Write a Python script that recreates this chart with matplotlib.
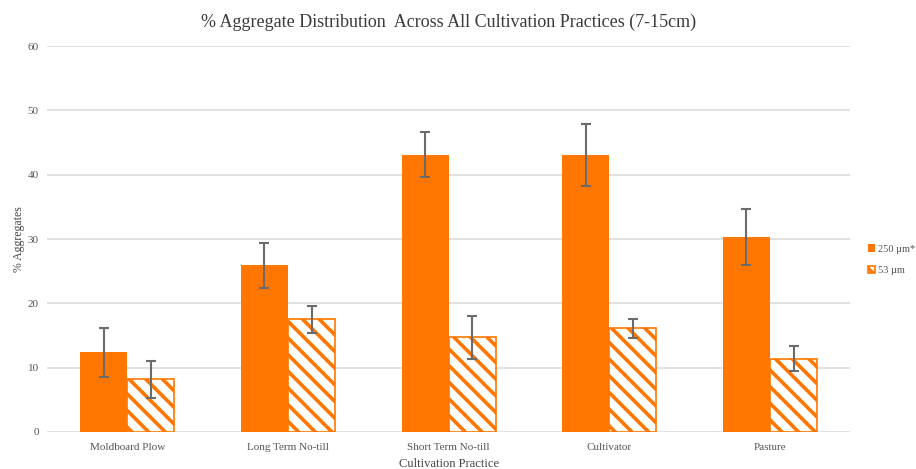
import matplotlib
matplotlib.use("Agg")
import matplotlib.pyplot as plt
import numpy as np

categories = ["Moldboard Plow", "Long Term No-till", "Short Term No-till", "Cultivator", "Pasture"]
agg_250 = [12.4, 25.9, 43.1, 43.1, 30.3]
err_250 = [3.8, 3.5, 3.5, 4.8, 4.4]
agg_53 = [8.2, 17.5, 14.7, 16.1, 11.4]
err_53 = [2.9, 2.1, 3.4, 1.5, 1.9]
series_labels = ["250 µm*", "53 µm"]
yticks = [0, 10, 20, 30, 40, 50, 60]

orange = "#FF7700"
plt.rcParams["font.family"] = ["Liberation Serif", "DejaVu Serif"]
plt.rcParams["hatch.linewidth"] = 2.6
plt.rcParams["hatch.color"] = orange

fig = plt.figure(figsize=(9.16, 4.69), dpi=100)
ax = fig.add_axes([0.0513, 0.0789, 0.877, 0.823])

x = np.arange(len(categories))
w = 0.293
err_kw = dict(ecolor="#6b6b6b", elinewidth=1.5, capsize=3.5, capthick=1.5)
ax.bar(x - w / 2, agg_250, w, color=orange, yerr=err_250, error_kw=err_kw,
       label=series_labels[0], zorder=2)
ax.bar(x + w / 2, agg_53, w, facecolor="white", edgecolor=orange, hatch="\\\\",
       linewidth=1.2, yerr=err_53, error_kw=err_kw, label=series_labels[1], zorder=2)

ax.set_xlim(-0.5, len(categories) - 0.5)
ax.set_ylim(0, 60)
ax.set_yticks(yticks)
ax.set_xticks(x)
ax.set_xticklabels(categories)
ax.grid(axis="y", color="#dcdcdc", linewidth=1.2, zorder=0)
ax.set_axisbelow(True)
for s in ax.spines.values():
    s.set_visible(False)
ax.tick_params(axis="both", length=0, labelsize=8, labelcolor="#555555")
ax.tick_params(axis="y", pad=6)
ax.tick_params(axis="x", pad=8)

ax.set_title("% Aggregate Distribution  Across All Cultivation Practices (7-15cm)",
             fontsize=13, color="#3a3a3a", pad=14)
ax.set_ylabel("% Aggregates", fontsize=8.5, color="#444444", labelpad=2)
ax.set_xlabel("Cultivation Practice", fontsize=9, color="#444444", labelpad=4)

ax.legend(loc="center left", bbox_to_anchor=(1.013, 0.446), frameon=False,
          fontsize=7.5, handlelength=0.7, handleheight=0.7, handletextpad=0.3,
          labelspacing=1.2, labelcolor="#555555", borderaxespad=0.3)

fig.savefig("out.png", dpi=100)
